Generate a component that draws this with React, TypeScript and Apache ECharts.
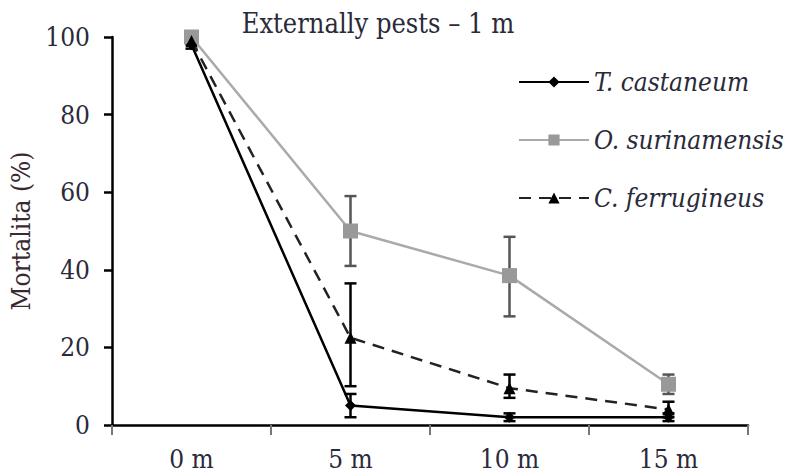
import React, { useEffect, useRef } from "react";
import * as echarts from "echarts";

const categories = ["0 m", "5 m", "10 m", "15 m"];
const seriesNames = ["T. castaneum", "O. surinamensis", "C. ferrugineus"];
const tValues = [98, 5, 2, 2];
const tLow = [97, 2, 1, 1];
const tHigh = [99, 8, 3, 3];
const oValues = [100, 50, 38.5, 10.5];
const oLow = [99, 41, 28, 8];
const oHigh = [100, 59, 48.5, 13];
const cValues = [99, 22.5, 9.5, 4];
const cLow = [98, 10, 7, 2];
const cHigh = [100, 36.5, 13, 6];
const yTicks = [0, 20, 40, 60, 80, 100];

const FONT = "DejaVu Serif Condensed";
const TXT = "#2a2a3a";

function errorSeries(name: string, low: number[], high: number[], color: string) {
  return {
    type: "custom",
    name: name + " error",
    z: 3,
    renderItem: (params: any, api: any) => {
      const x = api.value(0);
      const lo = api.coord([x, api.value(1)]);
      const hi = api.coord([x, api.value(2)]);
      const w = 6;
      const st = { stroke: color, lineWidth: 2.5 };
      return {
        type: "group",
        children: [
          { type: "line", shape: { x1: lo[0], y1: lo[1], x2: hi[0], y2: hi[1] }, style: st },
          { type: "line", shape: { x1: lo[0] - w, y1: lo[1], x2: lo[0] + w, y2: lo[1] }, style: st },
          { type: "line", shape: { x1: hi[0] - w, y1: hi[1], x2: hi[0] + w, y2: hi[1] }, style: st },
        ],
      };
    },
    data: categories.map((_, i) => [i, low[i], high[i]]),
    tooltip: { show: false },
  };
}

export default function App() {
  const ref = useRef<HTMLDivElement>(null);
  useEffect(() => {
    if (!ref.current) return;
    const chart = echarts.init(ref.current, null, { renderer: "svg" });
    chart.setOption({
      animation: false,
      backgroundColor: "#fff",
      title: {
        text: "Externally pests \u2013 1 m",
        left: 373,
        top: 5,
        textAlign: "center",
        textStyle: { fontFamily: FONT, fontSize: 27, fontWeight: "normal", color: TXT },
      },
      grid: { left: 112, right: 40, top: 37, bottom: 51 },
      legend: {
        orient: "vertical",
        left: 513,
        top: 64,
        itemWidth: 70,
        itemHeight: 14,
        itemGap: 32,
        data: seriesNames,
        textStyle: { fontFamily: FONT, fontSize: 26, fontStyle: "italic", color: TXT },
      },
      xAxis: {
        type: "category",
        data: categories,
        boundaryGap: true,
        axisLine: { lineStyle: { color: "#000", width: 2.5 } },
        axisTick: { show: true, length: 10, lineStyle: { color: "#777", width: 2 } },
        axisLabel: { fontFamily: FONT, fontSize: 26, color: TXT, margin: 21 },
      },
      yAxis: {
        type: "value",
        min: 0,
        max: 100,
        interval: 20,
        name: "Mortalita (%)",
        nameLocation: "middle",
        nameGap: 71,
        nameTextStyle: { fontFamily: FONT, fontSize: 26, color: "#3a2a30" },
        splitLine: { show: false },
        axisLine: { show: true, lineStyle: { color: "#000", width: 2.5 } },
        axisTick: { show: true, length: 8, lineStyle: { color: "#000", width: 2.5 } },
        axisLabel: {
          fontFamily: FONT,
          fontSize: 26,
          color: TXT,
          margin: 22,
          formatter: (v: number) => (yTicks.includes(v) ? String(v) : ""),
        },
      },
      series: [
        errorSeries("T. castaneum", tLow, tHigh, "#000"),
        errorSeries("O. surinamensis", oLow, oHigh, "#555"),
        errorSeries("C. ferrugineus", cLow, cHigh, "#000"),
        {
          name: "O. surinamensis",
          type: "line",
          data: oValues,
          symbol: "rect",
          symbolSize: 15,
          z: 4,
          itemStyle: { color: "#999" },
          lineStyle: { color: "#aaa", width: 2.5 },
        },
        {
          name: "C. ferrugineus",
          type: "line",
          data: cValues,
          symbol: "triangle",
          symbolSize: 12,
          z: 5,
          itemStyle: { color: "#000" },
          lineStyle: { color: "#222", width: 2.5, type: [12, 8] },
        },
        {
          name: "T. castaneum",
          type: "line",
          data: tValues,
          symbol: "diamond",
          symbolSize: 11,
          z: 6,
          itemStyle: { color: "#000" },
          lineStyle: { color: "#000", width: 2.5 },
        },
      ],
    });
    return () => chart.dispose();
  }, []);
  return <div ref={ref} style={{ width: 788, height: 476, position: "absolute", left: 0, top: 0 }} />;
}
